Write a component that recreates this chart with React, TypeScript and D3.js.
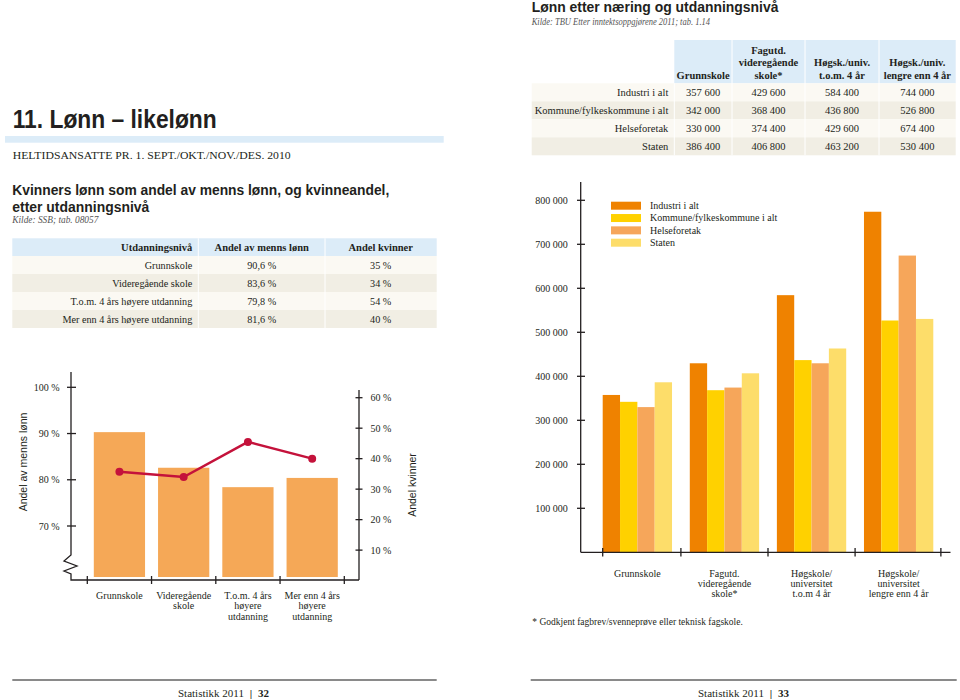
import React from "react";
import * as d3 from "d3";

// ---------- Data ----------
const eduLevelsLeft = ["Grunnskole", "Videregående skole", "T.o.m. 4 års høyere utdanning", "Mer enn 4 års høyere utdanning"];
const eduLevelsLeftLines = [["Grunnskole"], ["Videregående", "skole"], ["T.o.m. 4 års", "høyere", "utdanning"], ["Mer enn 4 års", "høyere", "utdanning"]];
const wageShareTable = ["90,6 %", "83,6 %", "79,8 %", "81,6 %"];
const womenShareTable = ["35 %", "34 %", "54 %", "40 %"];
const wageShareBars = [90.3, 82.6, 78.4, 80.4];
const womenShareLine = [35.7, 34.0, 45.5, 40.0];
const leftAxisTicks = [70, 80, 90, 100];
const rightAxisTicks = [10, 20, 30, 40, 50, 60];

const sectors = ["Industri i alt", "Kommune/fylkeskommune i alt", "Helseforetak", "Staten"];
const eduLevelsRight = ["Grunnskole", "Fagutd. videregående skole*", "Høgskole/universitet t.o.m 4 år", "Høgskole/universitet lengre enn 4 år"];
const eduLevelsRightLines = [["Grunnskole"], ["Fagutd.", "videregående", "skole*"], ["Høgskole/", "universitet", "t.o.m 4 år"], ["Høgskole/", "universitet", "lengre enn 4 år"]];
const tableHeaderLines = [["Grunnskole"], ["Fagutd.", "videregående", "skole*"], ["Høgsk./univ.", "t.o.m. 4 år"], ["Høgsk./univ.", "lengre enn 4 år"]];
const industriTable = [357600, 429600, 584400, 744000];
const kommuneTable = [342000, 368400, 436800, 526800];
const helseTable = [330000, 374400, 429600, 674400];
const statenTable = [386400, 406800, 463200, 530400];
// bar heights as drawn in the picture
const industriBars = [357600, 429600, 584400, 774000];
const kommuneBars = [342000, 368400, 436800, 526800];
const helseBars = [330000, 374400, 429600, 674400];
const statenBars = [386400, 406800, 463200, 530400];
const wageTicks = [100000, 200000, 300000, 400000, 500000, 600000, 700000, 800000];

const sectorColors = ["#ef8200", "#ffd100", "#f6a65a", "#fddd6a"];

// ---------- Styles ----------
const SERIF = "'Liberation Serif', 'Times New Roman', serif";
const SANS = "'Liberation Sans', Arial, sans-serif";
const INK = "#231f20";
const HEADER_BLUE = "#dcecf8";
const ROW_LIGHT = "#fbf9f3";
const ROW_DARK = "#f1eee4";

const nf = d3.formatLocale({ decimal: ",", thousands: " ", grouping: [3], currency: ["", ""] }).format(",");

export default function App() {
  // ----- Left chart scales -----
  const xL = d3.scaleBand<string>().domain(eduLevelsLeft).range([87.3, 344.3]).paddingInner(0).paddingOuter(0);
  const yL = d3.scaleLinear().domain([70, 100]).range([526, 387.3]);
  const yR = d3.scaleLinear().domain([0, 60]).range([580.6, 397.7]);
  const barInset = 6.5;
  const barBase = 577;
  const lineGen = d3
    .line<number>()
    .x((_, i) => (xL(eduLevelsLeft[i]) as number) + xL.bandwidth() / 2)
    .y((d) => yR(d));

  // ----- Right chart scales -----
  const xG = d3.scaleBand<string>().domain(eduLevelsRight).range([602.7, 933.3]).paddingInner(0.204).paddingOuter(0);
  const xS = d3.scaleBand<string>().domain(sectors).range([0, xG.bandwidth()]).padding(0);
  const yW = d3.scaleLinear().domain([0, 800000]).range([552.3, 200.3]);
  const seriesBars = [industriBars, kommuneBars, helseBars, statenBars];
  const gap = xG.step() - xG.bandwidth();
  const groupTicks = eduLevelsRight.map((c, i) => (i === 0 ? (xG(c) as number) : (xG(c) as number) - gap / 2));
  groupTicks.push((xG(eduLevelsRight[3]) as number) + xG.bandwidth() + gap / 2 - 1.3);

  // ----- Right table geometry -----
  const tColX = [674.3, 732, 805, 879, 955.7];
  const tRowTop = 83.3;
  const tRowH = 18;
  const tableRows = [industriTable, kommuneTable, helseTable, statenTable];

  // ----- Left table geometry -----
  const lColX = [12.3, 198.3, 325, 436.7];
  const lRowTop = 256;
  const lRowH = 18;

  return (
    <svg width={960} height={700} style={{ position: "absolute", left: 0, top: 0, background: "#fff" }}>
      {/* ===== Left page heading ===== */}
      <text x={12.7} y={128} fontFamily={SANS} fontWeight="bold" fontSize={25} fill={INK} textLength={204} lengthAdjust="spacingAndGlyphs">
        11. Lønn – likelønn
      </text>
      <rect x={5} y={136} width={438.7} height={6.7} fill={HEADER_BLUE} />
      <text x={12.7} y={159} fontFamily={SERIF} fontSize={11} fill={INK} textLength={278} lengthAdjust="spacingAndGlyphs">
        HELTIDSANSATTE PR. 1. SEPT./OKT./NOV./DES. 2010
      </text>

      {/* ===== Left section title ===== */}
      <text x={12.3} y={194.5} fontFamily={SANS} fontWeight="bold" fontSize={14} fill={INK} textLength={377} lengthAdjust="spacingAndGlyphs">
        Kvinners lønn som andel av menns lønn, og kvinneandel,
      </text>
      <text x={12.3} y={211.5} fontFamily={SANS} fontWeight="bold" fontSize={14} fill={INK} textLength={137} lengthAdjust="spacingAndGlyphs">
        etter utdanningsnivå
      </text>
      <text x={12.3} y={223} fontFamily={SERIF} fontStyle="italic" fontSize={10} fill="#555" textLength={86} lengthAdjust="spacingAndGlyphs">
        Kilde: SSB; tab. 08057
      </text>

      {/* ===== Left table ===== */}
      <rect x={lColX[0]} y={238.3} width={lColX[3] - lColX[0]} height={lRowTop - 238.3} fill={HEADER_BLUE} />
      {eduLevelsLeft.map((c, i) => (
        <rect key={c} x={lColX[0]} y={lRowTop + i * lRowH} width={lColX[3] - lColX[0]} height={lRowH} fill={i % 2 === 0 ? ROW_LIGHT : ROW_DARK} />
      ))}
      {[lColX[1], lColX[2]].map((x) => (
        <line key={x} x1={x} x2={x} y1={238.3} y2={lRowTop + 4 * lRowH} stroke="#fff" strokeWidth={1} />
      ))}
      <g fontFamily={SERIF} fontSize={10.5} fontWeight="bold" fill={INK}>
        <text x={192.3} y={251} textAnchor="end">Utdanningsnivå</text>
        <text x={261.7} y={251} textAnchor="middle">Andel av menns lønn</text>
        <text x={380.7} y={251} textAnchor="middle">Andel kvinner</text>
      </g>
      <g fontFamily={SERIF} fontSize={10.2} fill={INK}>
        {eduLevelsLeft.map((c, i) => {
          const yb = lRowTop + i * lRowH + 13;
          return (
            <g key={c}>
              <text x={192.3} y={yb} textAnchor="end">{c}</text>
              <text x={261.7} y={yb} textAnchor="middle">{wageShareTable[i]}</text>
              <text x={380.7} y={yb} textAnchor="middle">{womenShareTable[i]}</text>
            </g>
          );
        })}
      </g>

      {/* ===== Left combo chart ===== */}
      {wageShareBars.map((v, i) => {
        const x0 = (xL(eduLevelsLeft[i]) as number) + barInset;
        return <rect key={i} x={x0} y={yL(v)} width={xL.bandwidth() - 2 * barInset} height={barBase - yL(v)} fill="#f5a857" />;
      })}
      {/* left axis with break */}
      <path d={`M71,372 L71,555 L64,561 L77,566 L64,571 L71,574 L71,580 L359,580`} fill="none" stroke={INK} strokeWidth={1.3} />
      {leftAxisTicks.map((t) => (
        <g key={t}>
          <line x1={67} x2={76} y1={yL(t)} y2={yL(t)} stroke={INK} strokeWidth={1.3} />
          <text x={59.5} y={yL(t) + 3.5} textAnchor="end" fontFamily={SERIF} fontSize={10} fill={INK}>{`${t} %`}</text>
        </g>
      ))}
      <text transform={`translate(26.5,462) rotate(-90)`} textAnchor="middle" fontFamily={SANS} fontSize={10.5} fill={INK}>
        Andel av menns lønn
      </text>
      {/* right axis */}
      <line x1={359} x2={359} y1={390} y2={580} stroke={INK} strokeWidth={1.3} />
      {rightAxisTicks.map((t) => (
        <g key={t}>
          <line x1={355.5} x2={362.5} y1={yR(t)} y2={yR(t)} stroke={INK} strokeWidth={1.3} />
          <text x={370.5} y={yR(t) + 3.5} textAnchor="start" fontFamily={SERIF} fontSize={10} fill={INK}>{`${t} %`}</text>
        </g>
      ))}
      <text transform={`translate(416,485) rotate(-90)`} textAnchor="middle" fontFamily={SANS} fontSize={10.5} fill={INK}>
        Andel kvinner
      </text>
      {/* category ticks */}
      {[...eduLevelsLeft.map((c) => xL(c) as number), (xL(eduLevelsLeft[3]) as number) + xL.bandwidth()].map((x, i) => (
        <line key={i} x1={x} x2={x} y1={576} y2={584} stroke={INK} strokeWidth={1.3} />
      ))}
      {eduLevelsLeftLines.map((lines, i) => (
        <text key={i} textAnchor="middle" fontFamily={SERIF} fontSize={10} fill={INK}>
          {lines.map((l, j) => (
            <tspan key={j} x={(xL(eduLevelsLeft[i]) as number) + xL.bandwidth() / 2} y={598.5 + j * 10.5}>{l}</tspan>
          ))}
        </text>
      ))}
      {/* line */}
      <path d={lineGen(womenShareLine) || ""} fill="none" stroke="#c4123b" strokeWidth={2.4} />
      {womenShareLine.map((v, i) => (
        <circle key={i} cx={(xL(eduLevelsLeft[i]) as number) + xL.bandwidth() / 2} cy={yR(v)} r={4} fill="#c4123b" />
      ))}

      {/* ===== Right page heading ===== */}
      <text x={531.7} y={12.3} fontFamily={SANS} fontWeight="bold" fontSize={14} fill={INK} textLength={246.7} lengthAdjust="spacingAndGlyphs">
        Lønn etter næring og utdanningsnivå
      </text>
      <text x={531.7} y={25} fontFamily={SERIF} fontStyle="italic" fontSize={10} fill="#555" textLength={178.3} lengthAdjust="spacingAndGlyphs">
        Kilde: TBU Etter inntektsoppgjørene 2011; tab. 1.14
      </text>

      {/* ===== Right table ===== */}
      <rect x={tColX[0]} y={40} width={tColX[4] - tColX[0]} height={tRowTop - 40} fill={HEADER_BLUE} />
      {sectors.map((s, i) => (
        <rect key={s} x={531.7} y={tRowTop + i * tRowH} width={tColX[4] - 531.7} height={tRowH} fill={i % 2 === 0 ? ROW_LIGHT : ROW_DARK} />
      ))}
      {tColX.slice(0, 4).map((x, i) => (
        <line key={x} x1={x} x2={x} y1={i === 0 ? tRowTop : 40} y2={tRowTop + 4 * tRowH} stroke="#fff" strokeWidth={1} />
      ))}
      {tableHeaderLines.map((lines, i) => {
        const cx = (tColX[i] + tColX[i + 1]) / 2;
        const n = lines.length;
        return (
          <text key={i} textAnchor="middle" fontFamily={SERIF} fontWeight="bold" fontSize={10.5} fill={INK}>
            {lines.map((l, j) => (
              <tspan key={j} x={cx} y={78.5 - (n - 1 - j) * 12.4}>{l}</tspan>
            ))}
          </text>
        );
      })}
      <g fontFamily={SERIF} fontSize={10.5} fill={INK}>
        {sectors.map((s, i) => {
          const yb = tRowTop + i * tRowH + 12.8;
          return (
            <g key={s}>
              <text x={668.3} y={yb} textAnchor="end">{s}</text>
              {tableRows[i].map((v, j) => (
                <text key={j} x={(tColX[j] + tColX[j + 1]) / 2} y={yb} textAnchor="middle">{nf(v)}</text>
              ))}
            </g>
          );
        })}
      </g>

      {/* ===== Right grouped bar chart ===== */}
      {eduLevelsRight.map((g, gi) => (
        <g key={g}>
          {sectors.map((s, si) => {
            const v = seriesBars[si][gi];
            return (
              <rect
                key={s}
                x={(xG(g) as number) + (xS(s) as number)}
                y={yW(v)}
                width={xS.bandwidth()}
                height={yW(0) - yW(v)}
                fill={sectorColors[si]}
              />
            );
          })}
        </g>
      ))}
      <line x1={580.7} x2={580.7} y1={182} y2={552.3} stroke={INK} strokeWidth={1.3} />
      <line x1={580.7} x2={950.5} y1={552.3} y2={552.3} stroke={INK} strokeWidth={1.3} />
      {wageTicks.map((t) => (
        <g key={t}>
          <line x1={577} x2={585} y1={yW(t)} y2={yW(t)} stroke={INK} strokeWidth={1.3} />
          <text x={567.7} y={yW(t) + 3.5} textAnchor="end" fontFamily={SERIF} fontSize={10} fill={INK}>{nf(t)}</text>
        </g>
      ))}
      {groupTicks.map((x, i) => (
        <line key={i} x1={x} x2={x} y1={548} y2={556.5} stroke={INK} strokeWidth={1.3} />
      ))}
      {eduLevelsRightLines.map((lines, i) => (
        <text key={i} textAnchor="middle" fontFamily={SERIF} fontSize={10} fill={INK}>
          {lines.map((l, j) => (
            <tspan key={j} x={(xG(eduLevelsRight[i]) as number) + xG.bandwidth() / 2} y={577 + j * 10}>{l}</tspan>
          ))}
        </text>
      ))}
      {/* legend */}
      {sectors.map((s, i) => (
        <g key={s}>
          <rect x={611} y={201.7 + i * 12.33} width={30} height={8} fill={sectorColors[i]} />
          <text x={650} y={209 + i * 12.33} fontFamily={SERIF} fontSize={10} fill={INK}>{s}</text>
        </g>
      ))}
      <text x={532.3} y={625} fontFamily={SERIF} fontSize={9.5} fill={INK}>
        * Godkjent fagbrev/svenneprøve eller teknisk fagskole.
      </text>

      {/* ===== Footers ===== */}
      <line x1={12.3} x2={436.7} y1={680} y2={680} stroke="#8a8a8a" strokeWidth={2} />
      <line x1={530.7} x2={956.7} y1={680} y2={680} stroke="#8a8a8a" strokeWidth={2} />
      <text x={178} y={697} fontFamily={SERIF} fontSize={11} fill={INK}>
        Statistikk 2011 <tspan fontWeight="bold" dx={3}>|</tspan>
        <tspan fontWeight="bold" dx={6}>32</tspan>
      </text>
      <text x={698} y={697} fontFamily={SERIF} fontSize={11} fill={INK}>
        Statistikk 2011 <tspan fontWeight="bold" dx={3}>|</tspan>
        <tspan fontWeight="bold" dx={6}>33</tspan>
      </text>
    </svg>
  );
}
